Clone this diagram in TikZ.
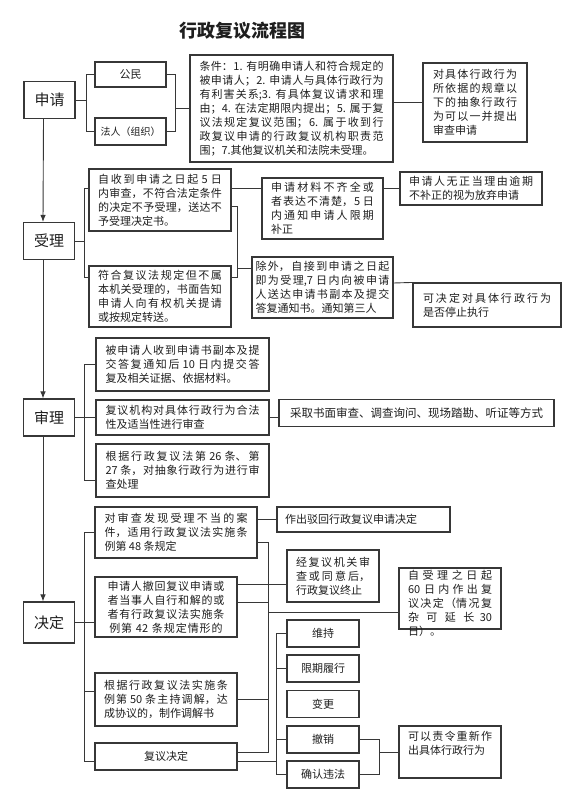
\documentclass[tikz,border=0pt]{standalone}
\usepackage{fontspec}
\setmainfont{Noto Sans CJK SC}
\usepackage{tikz}
\usetikzlibrary{arrows.meta,positioning}
\XeTeXlinebreaklocale "zh"
\XeTeXlinebreakskip=0pt plus 3pt
\tolerance=9999
\hbadness=10000
\definecolor{boxline}{RGB}{55,55,55}
\definecolor{boxtext}{RGB}{30,30,30}
\tikzset{
  stagebox/.style={
    rectangle,
    draw=boxline,
    line width=1.1pt,
    text=boxtext,
    minimum width=51pt,
    minimum height=37pt,
    inner sep=0pt,
    font=\fontsize{15}{18}\selectfont
  },
  textbox/.style={
    rectangle,
    draw=boxline,
    line width=1.1pt,
    text=boxtext,
    align=justify,
    inner xsep=1pt,
    inner ysep=3pt,
    font=\fontsize{11}{14}\selectfont
  },
  namebox/.style={
    rectangle,
    draw=boxline,
    line width=1.1pt,
    text=boxtext,
    align=center,
    inner sep=1pt,
    font=\fontsize{11}{14}\selectfont
  },
  link/.style={
    draw=boxline,
    line width=0.9pt
  },
  flowarrow/.style={
    link,
    -{Latex[length=7pt,width=5.5pt]}
  }
}

\begin{document}
\begin{tikzpicture}[x=1pt,y=-1pt]
\useasboundingbox (0,0) rectangle (578,799);

\node[text=boxtext, font=\bfseries\fontsize{18}{22}\selectfont] (title) at (242.5,31) {行政复议流程图};

% apply
\node[stagebox] (apply) at (49.5,100) {申请};
\node[namebox, minimum width=71pt, minimum height=25pt] (citizen) at (130.5,74.5) {公民};
\node[namebox, minimum width=71pt, minimum height=27pt, font=\fontsize{10}{12}\selectfont] (legal) at (130.5,131.5) {法人（组织）};
\node[textbox, text width=184pt, minimum width=203pt, minimum height=107pt] (cond) at (291.5,108.5) {条件：1. 有明确申请人和符合规定的\linebreak
被申请人；2. 申请人与具体行政行为\linebreak
有利害关系;3. 有具体复议请求和理\linebreak
由；4. 在法定期限内提出；5. 属于复\linebreak
议法规定复议范围；6. 属于收到行\linebreak
政复议申请的行政复议机构职责范\linebreak
围；7.其他复议机关和法院未受理。};
\node[textbox, text width=84pt, minimum width=104pt, minimum height=79pt] (absrule) at (475,102.5) {对具体行政行为\linebreak
所依据的规章以\linebreak
下的抽象行政行\linebreak
为可以一并提出\linebreak
审查申请};

% accept
\node[stagebox] (accept) at (49,241) {受理};
\node[textbox, text width=124pt, minimum width=142pt, minimum height=62pt] (reject) at (160,200) {自收到申请之日起 5 日\linebreak
内审查，不符合法定条件\linebreak
的决定不予受理，送达不\linebreak
予受理决定书。};
\node[textbox, text width=124pt, minimum width=142pt, minimum height=61pt] (transfer) at (160,296.5) {符合复议法规定但不属\linebreak
本机关受理的，书面告知\linebreak
申请人向有权机关提请\linebreak
或按规定转送。};
\node[textbox, text width=103pt, minimum width=121pt, minimum height=61pt] (supplement) at (322.5,208.5) {申请材料不齐全或\linebreak
者表达不清楚，5 日\linebreak
内通知申请人限期\linebreak
补正};
\node[textbox, text width=124pt, minimum width=142pt, minimum height=33pt] (waive) at (471,188.5) {申请人无正当理由逾期\linebreak
不补正的视为放弃申请};
\node[textbox, text width=134pt, minimum width=141pt, minimum height=61pt] (admit) at (322.5,287.5) {除外，自接到申请之日起\linebreak
即为受理,7 日内向被申请\linebreak
人送达申请书副本及提交\linebreak
答复通知书。通知第三人};
\node[textbox, text width=128pt, minimum width=148pt, minimum height=44pt] (suspend) at (487,305) {可决定对具体行政行为\linebreak
是否停止执行};

% hear
\node[stagebox] (hear) at (49,417.5) {审理};
\node[textbox, text width=154pt, minimum width=173pt, minimum height=53pt] (answer) at (182.5,364.5) {被申请人收到申请书副本及提\linebreak
交答复通知后 10 日内提交答\linebreak
复及相关证据、依据材料。};
\node[textbox, text width=154pt, minimum width=173pt, minimum height=35pt] (review) at (182.5,417.5) {复议机构对具体行政行为合法\linebreak
性及适当性进行审查};
\node[textbox, text width=154pt, minimum width=173pt, minimum height=53pt] (abstract) at (182.5,470.5) {根据行政复议法第 26 条、第\linebreak
27 条，对抽象行政行为进行审\linebreak
查处理};
\node[namebox, minimum width=275pt, minimum height=27pt, font=\fontsize{11.5}{14}\selectfont] (method) at (416.5,413) {采取书面审查、调查询问、现场踏勘、听证等方式};

% decide
\node[stagebox, minimum height=41pt] (decide) at (49,622.5) {决定};
\node[textbox, text width=143pt, minimum width=162pt, minimum height=51pt] (improper) at (176,532.5) {对审查发现受理不当的案\linebreak
件，适用行政复议法实施条\linebreak
例第 48 条规定};
\node[textbox, align=left, text width=157pt, minimum width=173pt, minimum height=25pt] (dismiss) at (363.5,519.5) {作出驳回行政复议申请决定};
\node[textbox, align=center, text width=128pt, minimum width=142pt, minimum height=60pt] (withdraw) at (166,607) {申请人撤回复议申请或\\
者当事人自行和解的或\\
者有行政复议法实施条\\
例第 42 条规定情形的};
\node[textbox, text width=74pt, minimum width=92pt, minimum height=52pt] (terminate) at (333,576) {经复议机关审\linebreak
查或同意后，\linebreak
行政复议终止};
\node[textbox, text width=84pt, minimum width=102pt, minimum height=61pt, inner ysep=2.5pt, text height=9pt, text depth=47pt] (limit60) at (450,598.5) {自受理之日起\linebreak
60 日内作出复\linebreak
议决定（情况复\linebreak
杂可延长 30\linebreak
日）。};
\node[textbox, text width=124pt, minimum width=142pt, minimum height=53pt] (mediate) at (166,699.5) {根据行政复议法实施条\linebreak
例第 50 条主持调解，达\linebreak
成协议的，制作调解书};
\node[namebox, minimum width=142pt, minimum height=27pt] (decision) at (166,756.5) {复议决定};
\node[namebox, minimum width=72pt, minimum height=27pt] (keep) at (323,633.5) {维持};
\node[namebox, minimum width=72pt, minimum height=27pt] (perform) at (323,668.5) {限期履行};
\node[namebox, minimum width=72pt, minimum height=27pt] (alter) at (323,704) {变更};
\node[namebox, minimum width=72pt, minimum height=27pt] (revoke) at (323,739.5) {撤销};
\node[namebox, minimum width=72pt, minimum height=27pt] (illegal) at (323,774.5) {确认违法};
\node[textbox, text width=84pt, minimum width=102pt, minimum height=52pt, inner ysep=5pt, text height=9pt, text depth=33pt] (redo) at (450,752) {可以责令重新作\linebreak
出具体行政行为};

% main line
\draw[flowarrow] ([xshift=-6pt]apply.south) -- ([xshift=-6pt]accept.north);
\draw[flowarrow] ([xshift=-6pt]accept.south) -- ([xshift=-6pt]hear.north);
\draw[flowarrow] ([xshift=-6pt]hear.south) -- ([xshift=-6pt]decide.north);

% apply links
\draw[link] (citizen.west) -- ++(-8,0) coordinate (appbar) |- (legal.west);
\draw[link] (apply.east) -- (apply.east -| appbar);
\draw[link] (citizen.east) -- ++(9,0) coordinate (partybar) |- (legal.east);
\draw[link] (partybar |- cond.west) -- (cond.west);
\draw[link] (absrule.west -| cond.east) -- (absrule.west);

% accept links
\coordinate (rejIn) at ([yshift=12pt]reject.west);
\coordinate (traIn) at ([yshift=19.5pt]transfer.west);
\draw[link] (rejIn) -- ++(-4,0) coordinate (accbar) |- (traIn);
\draw[link] (accept.east) -- (accept.east -| accbar);
\coordinate (rejOut) at ([yshift=12pt]reject.east);
\draw[link] (rejOut) -- (rejOut -| supplement.west);
\draw[link] (supplement.east |- waive.west) -- (waive.west);
\coordinate (rejOut2) at ([yshift=-6.5pt]reject.east);
\coordinate (traOut) at ([yshift=19.5pt]transfer.east);
\coordinate (admIn) at ([yshift=19.5pt]admit.west);
\draw[link] (rejOut2) -- ++(6,0) coordinate (admbar) |- (traOut);
\draw[link] (admbar |- admIn) -- (admIn);
\draw[link] ([yshift=4.5pt]admit.east) -- (suspend.north west);

% hear links
\draw[link] (hear.east) -- (review.west);
\coordinate (absIn) at ([yshift=-9.5pt]abstract.west);
\draw[link] (answer.west) -- ++(-11,0) coordinate (hearbar) |- (absIn);
\draw[link] (review.east) -- (review.east -| method.west);

% decide links
\draw[link] (decide.east) -- (decide.east -| withdraw.west);
\coordinate (medIn) at ([yshift=8.5pt]mediate.west);
\coordinate (decIn) at ([yshift=-4.5pt]decision.west);
\draw[link] (improper.west) -- ++(-10,0) coordinate (decbar) |- (decIn);
\draw[link] (medIn) -- (medIn -| decbar);
\draw[link] (improper.east |- dismiss.west) -- (dismiss.west);
\coordinate (impOut) at ([yshift=-9.5pt]improper.east);
\coordinate (decOut) at ([yshift=4.5pt]decision.east);
\draw[link] (impOut) -- ++(11,0) coordinate (resbar) |- (decOut);
\coordinate (wdOut) at ([yshift=5pt]withdraw.east);
\draw[link] (wdOut) -- (wdOut -| resbar);
\draw[link] (mediate.east) -- (mediate.east -| resbar);
\coordinate (tmIn) at ([yshift=-8pt]terminate.west);
\draw[link] (tmIn -| withdraw.east) -- (tmIn);
\coordinate (lmIn) at ([yshift=-13.5pt]limit60.west);
\draw[link] (resbar |- lmIn) -- (lmIn);
\coordinate (decOut2) at ([yshift=-4.5pt]decision.east);
\draw[link] (keep.west) -- ++(-10,0) coordinate (outbar) |- (illegal.west);
\draw[link] (decOut2) -- (decOut2 -| outbar);
\draw[link] (perform.west) -- (perform.west -| outbar);
\draw[link] (revoke.west) -- (revoke.west -| outbar);
\draw[link] (revoke.east) -- ++(20,0) coordinate (redobar) |- (illegal.east);
\draw[link] (redobar |- redo.west) -- (redo.west);
\end{tikzpicture}
\end{document}
